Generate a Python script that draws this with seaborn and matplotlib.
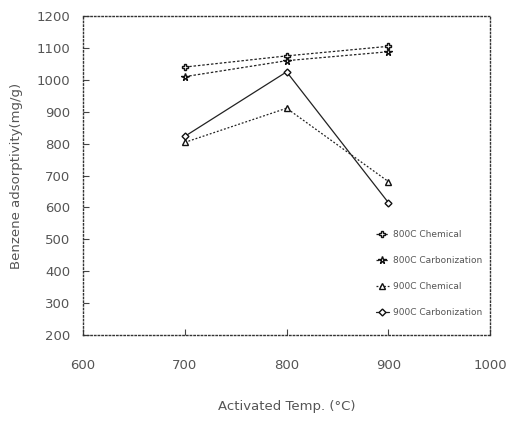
import matplotlib
matplotlib.use("Agg")
import matplotlib.pyplot as plt
import seaborn as sns
import pandas as pd

temps = [700, 800, 900]
series_names = ["800C Chemical", "800C Carbonization", "900C Chemical", "900C Carbonization"]
series_a = [1040, 1075, 1105]
series_b = [1010, 1060, 1088]
series_c = [823, 1025, 615]
series_d = [804, 911, 681]
x_ticks = [600, 700, 800, 900, 1000]
y_ticks = [200, 300, 400, 500, 600, 700, 800, 900, 1000, 1100, 1200]

values = {
    series_names[0]: series_a,
    series_names[1]: series_b,
    series_names[3]: series_c,
    series_names[2]: series_d,
}
rows = []
for name in series_names:
    for t, v in zip(temps, values[name]):
        rows.append({"temp": t, "value": v, "series": name})
df = pd.DataFrame(rows)

sns.set_theme(style="white")
plt.rcParams["font.family"] = ["DejaVu Sans"]

fig = plt.figure(figsize=(5.16, 4.21), dpi=100)
ax = fig.add_axes([0.161, 0.204, 0.789, 0.758])

styles = {
    series_names[0]: dict(marker="P", linestyle=(0, (2, 1.5)), ms=4.5),
    series_names[1]: dict(marker="*", linestyle=(0, (2, 1.5)), ms=5.5),
    series_names[2]: dict(marker="^", linestyle=(0, (1.5, 1.5)), ms=4.5),
    series_names[3]: dict(marker="D", linestyle="-", ms=3.5),
}
for name in series_names:
    sub = df[df["series"] == name]
    st = styles[name]
    sns.lineplot(data=sub, x="temp", y="value", ax=ax, color="#222222",
                 marker=st["marker"], linestyle=st["linestyle"], linewidth=0.9,
                 markersize=st["ms"], markerfacecolor="white", markeredgecolor="#111111",
                 markeredgewidth=1.0, label=name)

ax.set_xlim(600, 1000)
ax.set_ylim(200, 1200)
ax.set_xticks(x_ticks)
ax.set_yticks(y_ticks)
ax.tick_params(axis="both", direction="in", length=4, width=0.8, colors="#444444",
               labelsize=9.5, labelcolor="#555555", bottom=True, left=True)
ax.tick_params(axis="x", pad=17)
ax.tick_params(axis="y", pad=9)
for sp in ax.spines.values():
    sp.set_linestyle(":")
    sp.set_color("#333333")
    sp.set_linewidth(1.0)
ax.set_xlabel("Activated Temp. (°C)", fontsize=9.5, color="#555555", labelpad=20)
ax.set_ylabel("Benzene adsorptivity(mg/g)", fontsize=9.5, color="#555555", labelpad=10)

leg = ax.legend(loc="lower right", bbox_to_anchor=(1.0, 0.03), frameon=False,
                fontsize=6.5, handlelength=1.5, labelspacing=1.9, handletextpad=0.4)
for t in leg.get_texts():
    t.set_color("#555555")

fig.savefig("out.png", dpi=100)
